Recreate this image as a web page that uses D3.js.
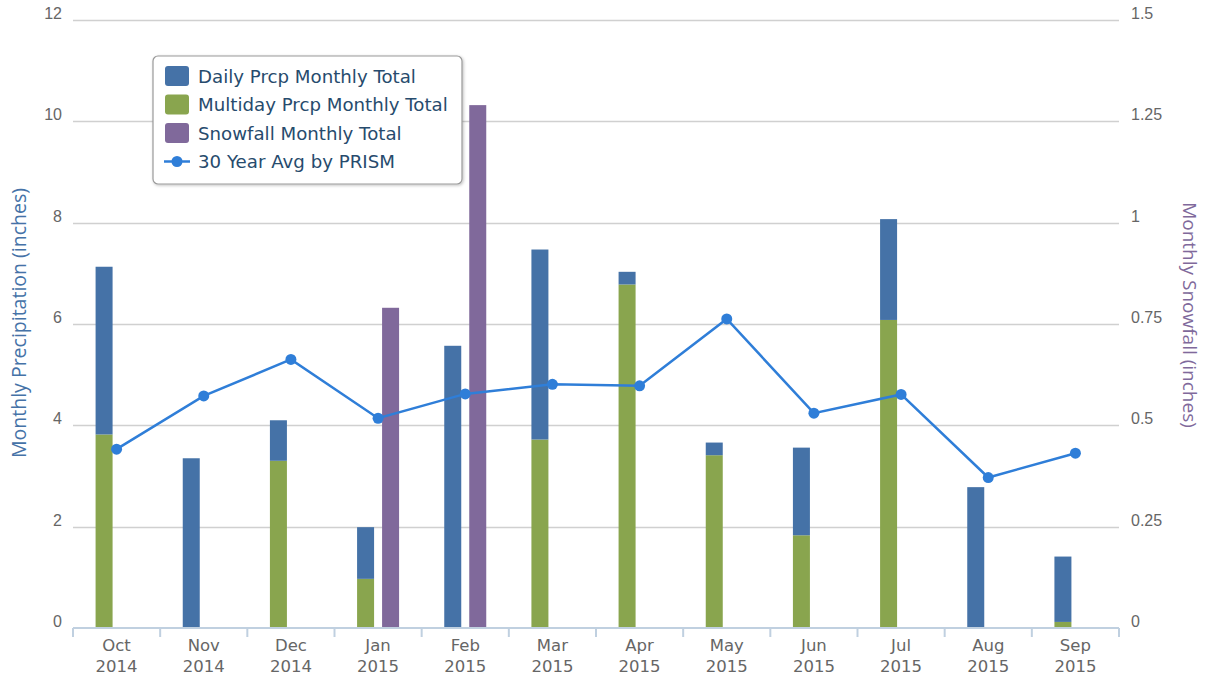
<!DOCTYPE html>
<html>
<head>
<meta charset="utf-8">
<script src="https://cdn.jsdelivr.net/npm/d3@7"></script>
<style>
  html, body { margin: 0; padding: 0; background: #fff; }
  svg { display: block; font-family: "DejaVu Sans", Verdana, sans-serif; }
</style>
</head>
<body>
<svg id="chart" width="1207" height="679"></svg>
<script>
// Monthly precipitation, Oct 2014 – Sep 2015
const months = ["Oct", "Nov", "Dec", "Jan", "Feb", "Mar", "Apr", "May", "Jun", "Jul", "Aug", "Sep"];
const years  = ["2014", "2014", "2014", "2015", "2015", "2015", "2015", "2015", "2015", "2015", "2015", "2015"];

// Stacked precipitation (inches): multiday at the bottom, daily on top
const multidayPrcp = [3.82, 0, 3.30, 0.97, 0, 3.72, 6.78, 3.41, 1.83, 6.08, 0, 0.12];
const dailyPrcp    = [3.31, 3.35, 0.80, 1.02, 5.57, 3.75, 0.25, 0.25, 1.73, 1.99, 2.78, 1.29];

// Snowfall (inches, right axis)
const snowfall = [0, 0, 0, 0.79, 1.29, 0, 0, 0, 0, 0, 0, 0];

// 30-year PRISM normals (inches)
const prismAvg = [3.53, 4.58, 5.30, 4.14, 4.62, 4.81, 4.78, 6.10, 4.24, 4.61, 2.97, 3.45];

const leftTicks  = [0, 2, 4, 6, 8, 10, 12];
const rightTicks = [0, 0.25, 0.5, 0.75, 1, 1.25, 1.5];

const colors = {
  daily: "#4572A7",
  multiday: "#89A54E",
  snow: "#80699B",
  avg: "#2F7ED8"
};

const svg = d3.select("#chart");
const plot = { left: 73, right: 1119, top: 20, bottom: 628 };

const x = d3.scaleBand().domain(months).range([plot.left, plot.right]).padding(0);
const yL = d3.scaleLinear().domain([0, 12]).range([plot.bottom, plot.top]);
const yR = d3.scaleLinear().domain([0, 1.5]).range([plot.bottom, plot.top]);

const barW = 17;
const barOffset = 12.5;

// Grid lines
svg.append("g")
  .selectAll("line")
  .data(leftTicks.filter(d => d > 0))
  .join("line")
  .attr("x1", plot.left).attr("x2", plot.right)
  .attr("y1", d => Math.round(yL(d)) + 0.5).attr("y2", d => Math.round(yL(d)) + 0.5)
  .attr("stroke", "#D0D0D0").attr("stroke-width", 1.5);

// Left axis labels
const leftAxis = d3.axisLeft(yL).tickValues(leftTicks).tickSize(0).tickPadding(11);
const gL = svg.append("g").attr("transform", `translate(${plot.left},0)`).call(leftAxis);
gL.select(".domain").remove();
gL.selectAll("text").attr("fill", "#666").style("font-size", "16px").attr("dy", "-0.1em");

// Right axis labels
const rightAxis = d3.axisRight(yR).tickValues(rightTicks).tickSize(0).tickPadding(12)
  .tickFormat(d => String(d));
const gR = svg.append("g").attr("transform", `translate(${plot.right},0)`).call(rightAxis);
gR.select(".domain").remove();
gR.selectAll("text").attr("fill", "#666").style("font-size", "16px").attr("dy", "-0.1em");

// Axis titles
svg.append("text")
  .attr("transform", "translate(26,323) rotate(-90)")
  .attr("text-anchor", "middle")
  .attr("fill", colors.daily)
  .style("font-family", "'Open Sans', sans-serif")
  .style("font-size", "19.5px")
  .text("Monthly Precipitation (inches)");

svg.append("text")
  .attr("transform", "translate(1183,315) rotate(90)")
  .attr("text-anchor", "middle")
  .attr("fill", colors.snow)
  .style("font-family", "'Open Sans', sans-serif")
  .style("font-size", "19px")
  .text("Monthly Snowfall (inches)");

// Stacked precipitation bars
const stackData = months.map((m, i) => ({ month: m, multiday: multidayPrcp[i], daily: dailyPrcp[i] }));
const stacked = d3.stack().keys(["multiday", "daily"])(stackData);

svg.append("g")
  .selectAll("g")
  .data(stacked)
  .join("g")
  .attr("fill", d => colors[d.key])
  .selectAll("rect")
  .data(d => d.filter(p => p[1] - p[0] > 0))
  .join("rect")
  .attr("x", d => x(d.data.month) + x.bandwidth() / 2 - barOffset - barW / 2)
  .attr("width", barW)
  .attr("y", d => yL(d[1]))
  .attr("height", d => yL(d[0]) - yL(d[1]));

// Snowfall bars
svg.append("g")
  .attr("fill", colors.snow)
  .selectAll("rect")
  .data(months.map((m, i) => ({ month: m, v: snowfall[i] })).filter(d => d.v > 0))
  .join("rect")
  .attr("x", d => x(d.month) + x.bandwidth() / 2 + barOffset - barW / 2)
  .attr("width", barW)
  .attr("y", d => yR(d.v))
  .attr("height", d => yR(0) - yR(d.v));

// X axis
const xAxis = d3.axisBottom(x).tickSize(0).tickFormat(() => "");
const gX = svg.append("g").attr("transform", `translate(0,${plot.bottom})`).call(xAxis);
gX.select(".domain").attr("stroke", "#C0D0E0").attr("stroke-width", 2).attr("d", `M${plot.left},0H${plot.right}`);
const boundaries = months.map(m => x(m)).concat([plot.right]);
gX.selectAll(".bound")
  .data(boundaries)
  .join("line")
  .attr("class", "bound")
  .attr("x1", d => d).attr("x2", d => d)
  .attr("y1", 0).attr("y2", 9)
  .attr("stroke", "#C0D0E0").attr("stroke-width", 2);

const xl = svg.append("g")
  .selectAll("text")
  .data(months.map((m, i) => ({ m, y: years[i] })))
  .join("text")
  .attr("x", d => x(d.m) + x.bandwidth() / 2)
  .attr("y", 651)
  .attr("text-anchor", "middle")
  .attr("fill", "#666")
  .style("font-size", "16.5px");
xl.append("tspan").text(d => d.m);
xl.append("tspan").attr("x", d => x(d.m) + x.bandwidth() / 2).attr("dy", 21).text(d => d.y);

// 30-year average line
const linePts = months.map((m, i) => ({ month: m, v: prismAvg[i] }));
svg.append("path")
  .datum(linePts)
  .attr("fill", "none")
  .attr("stroke", colors.avg)
  .attr("stroke-width", 2.5)
  .attr("d", d3.line().x(d => x(d.month) + x.bandwidth() / 2).y(d => yL(d.v)));

svg.append("g")
  .selectAll("circle")
  .data(linePts)
  .join("circle")
  .attr("cx", d => x(d.month) + x.bandwidth() / 2)
  .attr("cy", d => yL(d.v))
  .attr("r", 5.5)
  .attr("fill", colors.avg);

// Legend
const defs = svg.append("defs");
const f = defs.append("filter").attr("id", "shadow").attr("x", "-10%").attr("y", "-10%").attr("width", "130%").attr("height", "130%");
f.append("feDropShadow").attr("dx", 1).attr("dy", 1).attr("stdDeviation", 1.5).attr("flood-color", "#000").attr("flood-opacity", 0.25);

const legend = svg.append("g").attr("transform", "translate(153,56)");
legend.append("rect")
  .attr("width", 309).attr("height", 128)
  .attr("rx", 5).attr("ry", 5)
  .attr("fill", "#fff")
  .attr("stroke", "#999").attr("stroke-width", 1.2)
  .attr("filter", "url(#shadow)");

const legendItems = [
  { label: "Daily Prcp Monthly Total", color: colors.daily, type: "bar" },
  { label: "Multiday Prcp Monthly Total", color: colors.multiday, type: "bar" },
  { label: "Snowfall Monthly Total", color: colors.snow, type: "bar" },
  { label: "30 Year Avg by PRISM", color: colors.avg, type: "line" }
];

const li = legend.selectAll("g.item")
  .data(legendItems)
  .join("g")
  .attr("class", "item")
  .attr("transform", (d, i) => `translate(0,${20 + i * 28.5})`);

li.filter(d => d.type === "bar").append("rect")
  .attr("x", 12).attr("y", -10).attr("width", 24).attr("height", 20)
  .attr("rx", 3).attr("fill", d => d.color);
li.filter(d => d.type === "line").append("line")
  .attr("x1", 11).attr("x2", 37).attr("y1", 0).attr("y2", 0)
  .attr("stroke", d => d.color).attr("stroke-width", 2.5);
li.filter(d => d.type === "line").append("circle")
  .attr("cx", 24).attr("cy", 0).attr("r", 5.5).attr("fill", d => d.color);

li.append("text")
  .attr("x", 45).attr("y", 0).attr("dy", "0.36em")
  .attr("fill", "#274b6d")
  .style("font-size", "18.2px")
  .text(d => d.label);
</script>
</body>
</html>
